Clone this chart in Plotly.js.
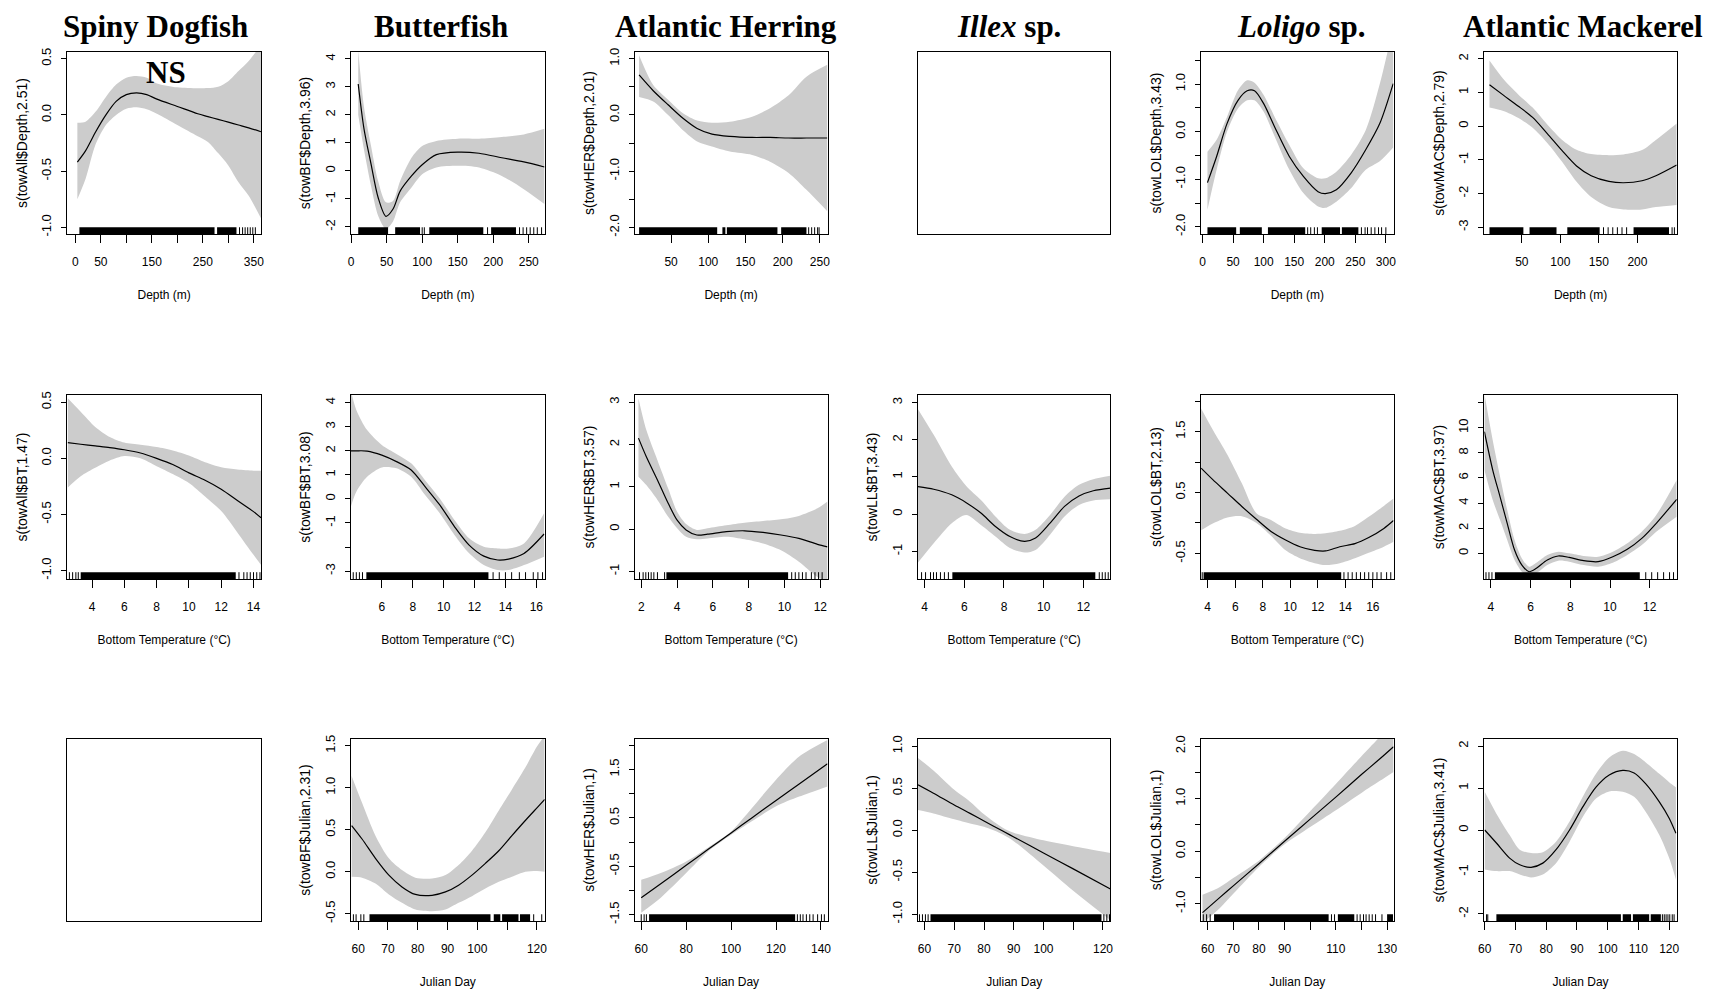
<!DOCTYPE html>
<html><head><meta charset="utf-8">
<script src="https://cdn.plot.ly/plotly-3.0.1.min.js"></script>
<style>html,body{margin:0;padding:0;background:#fff;}#chart{width:1711px;height:993px;}</style>
</head><body><div id="chart"></div>
<script>
// ---------- DATA ----------
const speciesTitles = ['Spiny Dogfish','Butterfish','Atlantic Herring','<i>Illex</i> sp.','<i>Loligo</i> sp.','Atlantic Mackerel'];
const rowXTitles = ['Depth (m)','Bottom Temperature (°C)','Julian Day'];

// Row 1: Depth
const dogDepthX   = [4, 20, 40, 60, 80, 100, 120, 140, 160, 200, 240, 260, 280, 300, 320, 340, 364];
const dogDepthFit = [-0.42, -0.32, -0.15, 0.0, 0.12, 0.18, 0.195, 0.18, 0.14, 0.075, 0.01, -0.015, -0.04, -0.065, -0.09, -0.115, -0.15];
const dogDepthUp  = [-0.07, -0.06, 0.03, 0.16, 0.27, 0.33, 0.345, 0.33, 0.28, 0.245, 0.236, 0.238, 0.25, 0.30, 0.39, 0.48, 0.62];
const dogDepthLo  = [-0.75, -0.57, -0.26, -0.09, 0.0, 0.055, 0.068, 0.05, 0.01, -0.09, -0.19, -0.24, -0.34, -0.45, -0.6, -0.72, -0.92];
const dogDepthRugSeg = [[8,273],[278,316]];
const dogDepthRugTick = [322,328,333,338,343,348,353];

const bfDepthX   = [10, 18, 28, 38, 49, 59, 69, 85, 100, 120, 150, 180, 212, 243, 272];
const bfDepthFit = [3.1, 1.52, 0.25, -0.95, -1.62, -1.36, -0.72, -0.18, 0.22, 0.58, 0.67, 0.63, 0.47, 0.32, 0.14];
const bfDepthUp  = [4.3, 2.3, 0.9, -0.36, -1.12, -1.07, -0.36, 0.47, 0.89, 1.07, 1.15, 1.15, 1.21, 1.30, 1.50];
const bfDepthLo  = [2.0, 0.77, -0.53, -1.6, -2.07, -1.8, -1.12, -0.59, -0.12, 0.12, 0.18, 0.12, -0.18, -0.65, -1.18];
const bfDepthRugSeg = [[10,52],[62,97],[110,186],[197,232]];
const bfDepthRugTick = [100,103,192,237,242,247,252,257,262,268];

const herDepthX   = [7, 26, 46, 66, 85, 105, 129, 159, 183, 208, 232, 260];
const herDepthFit = [0.71, 0.43, 0.18, -0.06, -0.24, -0.34, -0.38, -0.40, -0.40, -0.41, -0.41, -0.41];
const herDepthUp  = [1.06, 0.53, 0.27, 0.03, -0.10, -0.14, -0.12, -0.03, 0.12, 0.35, 0.68, 0.89];
const herDepthLo  = [0.32, 0.24, 0.0, -0.27, -0.47, -0.56, -0.65, -0.71, -0.83, -1.03, -1.33, -1.71];
const herDepthRugSeg = [[7,112],[119,123],[125,193],[198,232]];
const herDepthRugTick = [235,239,243,247,249];

const lolDepthX   = [8, 23, 40, 58, 73, 85, 100, 118, 142, 165, 189, 201, 219, 243, 267, 290, 312];
const lolDepthFit = [-1.07, -0.52, 0.17, 0.66, 0.86, 0.86, 0.59, 0.10, -0.52, -0.94, -1.26, -1.30, -1.22, -0.87, -0.38, 0.17, 1.01];
const lolDepthUp  = [-0.42, -0.17, 0.31, 0.87, 1.08, 1.03, 0.77, 0.31, -0.28, -0.77, -0.98, -0.98, -0.84, -0.49, 0.03, 1.0, 2.2];
const lolDepthLo  = [-1.64, -0.80, 0.0, 0.49, 0.66, 0.66, 0.42, -0.10, -0.80, -1.29, -1.57, -1.6, -1.47, -1.19, -0.80, -0.62, -0.33];
const lolDepthRugSeg = [[8,55],[61,97],[107,168],[195,225],[228,255]];
const lolDepthRugTick = [172,177,183,188,260,266,270,276,282,288,293,300];

const macDepthX   = [8, 26, 45, 64, 83, 102, 121, 140, 163, 182, 206, 224, 251];
const macDepthFit = [1.23, 0.92, 0.60, 0.26, -0.22, -0.72, -1.18, -1.47, -1.64, -1.68, -1.62, -1.47, -1.15];
const macDepthUp  = [1.95, 1.40, 0.95, 0.55, 0.05, -0.40, -0.70, -0.83, -0.86, -0.84, -0.71, -0.41, 0.08];
const macDepthLo  = [0.55, 0.45, 0.25, -0.05, -0.50, -1.05, -1.65, -2.10, -2.40, -2.47, -2.47, -2.40, -2.34];
const macDepthRugSeg = [[8,52],[60,95],[109,151],[195,241]];
const macDepthRugTick = [156,162,168,174,180,186,245,248];

// Row 2: Bottom temperature
const dogBTX   = [2.5, 3.3, 4.2, 5.1, 6.0, 7.0, 8.0, 9.0, 10.0, 11.0, 12.0, 13.0, 14.0, 14.47];
const dogBTFit = [0.14, 0.125, 0.11, 0.095, 0.076, 0.047, 0.0, -0.055, -0.13, -0.195, -0.275, -0.375, -0.475, -0.53];
const dogBTUp  = [0.535, 0.415, 0.28, 0.19, 0.14, 0.12, 0.10, 0.07, 0.025, -0.035, -0.08, -0.10, -0.11, -0.11];
const dogBTLo  = [-0.26, -0.16, -0.085, -0.02, 0.02, 0.0, -0.07, -0.14, -0.22, -0.34, -0.47, -0.66, -0.86, -0.95];
const dogBTRugSeg = [[3.3,12.9]];
const dogBTRugTick = [2.6,2.8,3.0,3.15,13.1,13.4,13.6,13.8,14.0,14.2,14.4];

const bfBTX   = [4.0, 4.35, 5.05, 6.0, 6.95, 7.9, 8.8, 9.75, 10.7, 11.65, 12.6, 13.5, 14.2, 15.2, 16.5];
const bfBTFit = [2.0, 2.0, 1.99, 1.82, 1.55, 1.2, 0.51, -0.25, -1.15, -1.92, -2.38, -2.54, -2.5, -2.27, -1.46];
const bfBTUp  = [4.5, 3.7, 2.86, 2.24, 1.87, 1.48, 0.78, 0.02, -0.88, -1.64, -1.99, -2.06, -2.06, -1.85, -0.6];
const bfBTLo  = [-0.32, 0.3, 0.92, 1.31, 1.27, 0.92, 0.16, -0.6, -1.5, -2.26, -2.75, -2.96, -2.96, -2.75, -2.4];
const bfBTRugSeg = [[5.0,12.9]];
const bfBTRugTick = [4.15,4.35,4.55,4.75,13.2,13.6,14.0,14.4,14.9,15.3,15.8,16.1,16.4];

const herBTX   = [1.84, 2.28, 2.9, 3.5, 4.0, 4.5, 5.1, 5.7, 6.75, 7.77, 8.8, 9.8, 10.8, 11.84, 12.4];
const herBTFit = [2.15, 1.71, 1.16, 0.61, 0.21, -0.02, -0.14, -0.12, -0.06, -0.04, -0.08, -0.14, -0.22, -0.36, -0.42];
const herBTUp  = [3.09, 2.34, 1.63, 0.96, 0.41, 0.12, -0.02, 0.02, 0.09, 0.15, 0.19, 0.23, 0.31, 0.49, 0.65];
const herBTLo  = [1.24, 1.04, 0.69, 0.29, 0.02, -0.18, -0.24, -0.22, -0.18, -0.24, -0.34, -0.5, -0.77, -1.13, -1.25];
const herBTRugSeg = [[3.4,10.2]];
const herBTRugTick = [1.9,2.1,2.25,2.4,2.55,2.7,2.9,3.3,10.4,10.6,10.8,11.0,11.2,11.5,11.7,11.9,12.1];

const illBTX   = [3.67, 4.46, 5.37, 6.1, 6.84, 7.57, 8.3, 9.04, 9.59, 10.32, 11.05, 11.78, 12.5, 13.36];
const illBTFit = [0.74, 0.67, 0.52, 0.31, 0.03, -0.33, -0.6, -0.73, -0.64, -0.24, 0.21, 0.49, 0.63, 0.70];
const illBTUp  = [2.82, 2.13, 1.28, 0.76, 0.38, -0.06, -0.42, -0.53, -0.42, -0.02, 0.47, 0.79, 0.94, 1.03];
const illBTLo  = [-1.30, -0.78, -0.24, -0.02, -0.29, -0.6, -0.91, -1.03, -0.96, -0.55, -0.06, 0.25, 0.37, 0.40];
const illBTRugSeg = [[5.4,12.6]];
const illBTRugTick = [3.85,4.05,4.3,4.45,4.6,4.8,5.0,5.2,12.8,12.95,13.1,13.25];

const lolBTX   = [3.52, 4.37, 5.43, 6.48, 7.54, 8.6, 9.66, 10.7, 11.77, 12.56, 13.6, 14.7, 15.7, 16.8, 17.5];
const lolBTFit = [0.90, 0.71, 0.49, 0.27, 0.06, -0.14, -0.28, -0.39, -0.45, -0.46, -0.39, -0.34, -0.24, -0.09, 0.04];
const lolBTUp  = [1.88, 1.53, 1.12, 0.65, 0.16, 0.05, -0.09, -0.16, -0.18, -0.17, -0.13, -0.05, 0.10, 0.28, 0.40];
const lolBTLo  = [-0.12, -0.01, 0.09, 0.11, 0.0, -0.21, -0.45, -0.58, -0.66, -0.69, -0.66, -0.58, -0.49, -0.39, -0.31];
const lolBTRugSeg = [[3.7,13.7]];
const lolBTRugTick = [3.6,13.9,14.2,14.5,14.8,15.1,15.4,15.7,16.0,16.3,16.6,17.0,17.3];

const macBTX   = [3.67, 4.09, 4.46, 4.82, 5.19, 5.56, 5.92, 6.29, 6.84, 7.39, 7.94, 8.67, 9.4, 10.14, 10.87, 11.6, 12.33, 13.36];
const macBTFit = [9.68, 6.63, 4.5, 2.39, 0.27, -0.93, -1.46, -1.19, -0.53, -0.21, -0.32, -0.58, -0.66, -0.27, 0.32, 1.19, 2.39, 4.3];
const macBTUp  = [12.7, 9.0, 6.1, 3.45, 1.06, -0.4, -1.06, -0.74, -0.13, 0.13, 0.0, -0.21, -0.27, 0.13, 0.8, 1.72, 3.05, 5.84];
const macBTLo  = [6.63, 4.24, 2.65, 1.06, -0.53, -1.46, -1.86, -1.59, -0.93, -0.58, -0.66, -0.93, -1.06, -0.74, -0.13, 0.66, 1.72, 2.92];
const macBTRugSeg = [[4.2,11.5]];
const macBTRugTick = [3.75,3.9,4.05,11.8,12.1,12.4,12.7,13.0,13.2];

// Row 3: Julian day
const bfJulX   = [57.8, 61.3, 65.8, 70.3, 74.7, 79.2, 84.8, 89.3, 93.7, 98.2, 102.7, 107.2, 111.6, 116.1, 120, 122.6];
const bfJulFit = [0.55, 0.39, 0.16, -0.04, -0.18, -0.27, -0.28, -0.24, -0.16, -0.04, 0.10, 0.25, 0.43, 0.61, 0.76, 0.86];
const bfJulUp  = [1.14, 0.82, 0.43, 0.16, 0.02, -0.07, -0.08, -0.04, 0.08, 0.25, 0.47, 0.73, 0.98, 1.24, 1.49, 1.62];
const bfJulLo  = [-0.06, -0.07, -0.14, -0.27, -0.37, -0.45, -0.47, -0.45, -0.37, -0.29, -0.20, -0.12, -0.06, 0.0, 0.01, 0.0];
const bfJulRugSeg = [[63.8,104.4],[105.5,107.7],[108.3,113.8],[114.3,117.7]];
const bfJulRugTick = [58.4,59.3,60.9,61.9,118.9,121.6];

const herJulX   = [60, 68.7, 80, 89.8, 100, 109.2, 120, 130.3, 142.9];
const herJulFit = [-1.15, -0.86, -0.48, -0.15, 0.19, 0.50, 0.86, 1.20, 1.62];
const herJulUp  = [-0.78, -0.64, -0.40, -0.11, 0.22, 0.70, 1.29, 1.77, 2.11];
const herJulLo  = [-1.46, -1.15, -0.64, -0.19, 0.15, 0.43, 0.74, 0.94, 1.15];
const herJulRugSeg = [[63.5,128.5]];
const herJulRugTick = [60,61.3,62.3,129.5,130.8,132,133.5,135,136.5,138.5,140.2,141.5];

const illJulX   = [57.8, 63, 70, 75.3, 80, 86.3, 90, 100, 110, 122.5];
const illJulFit = [0.54, 0.44, 0.30, 0.20, 0.11, -0.01, -0.08, -0.27, -0.46, -0.70];
const illJulUp  = [0.86, 0.71, 0.48, 0.34, 0.19, 0.03, -0.03, -0.12, -0.19, -0.27];
const illJulLo  = [0.24, 0.20, 0.13, 0.08, 0.04, -0.05, -0.13, -0.42, -0.72, -1.07];
const illJulRugSeg = [[62,119.5]];
const illJulRugTick = [58.3,59.3,60.3,61.2,120.3,121.3,122.2];

const lolJulX   = [58, 64.8, 70, 80, 90, 100, 110, 120, 127.2, 132.5];
const lolJulFit = [-1.17, -0.88, -0.66, -0.24, 0.19, 0.61, 1.03, 1.46, 1.76, 1.99];
const lolJulUp  = [-0.83, -0.68, -0.51, -0.18, 0.25, 0.76, 1.28, 1.81, 2.18, 2.47];
const lolJulLo  = [-1.37, -1.08, -0.81, -0.30, 0.13, 0.46, 0.78, 1.11, 1.34, 1.51];
const lolJulRugSeg = [[62.5,107.2],[110.8,117.2],[130,132.3]];
const lolJulRugTick = [58.3,59.6,61.0,108.3,109.5,118.3,119.5,120.8,121.8,123,124.2,125.5,128];

const macJulX   = [60, 63.8, 68.1, 71.4, 75.1, 78.9, 83.2, 87.6, 91.9, 96.2, 100.5, 104.9, 108.6, 112.4, 116.8, 120, 122.2];
const macJulFit = [0.0, -0.31, -0.67, -0.83, -0.89, -0.79, -0.47, 0.0, 0.55, 1.02, 1.31, 1.42, 1.36, 1.10, 0.67, 0.28, -0.08];
const macJulUp  = [0.91, 0.39, -0.12, -0.47, -0.55, -0.53, -0.28, 0.20, 0.79, 1.34, 1.73, 1.89, 1.81, 1.61, 1.34, 1.14, 1.02];
const macJulLo  = [-0.94, -0.98, -0.98, -1.06, -1.13, -1.06, -0.79, -0.28, 0.31, 0.75, 0.92, 0.91, 0.79, 0.43, -0.12, -0.67, -1.18];
const macJulRugSeg = [[63.8,104.3],[104.9,107.6],[108.2,113.5],[114,117.3]];
const macJulRugTick = [60.6,61.0,117.8,118.4,119.0,119.6,120.2,121.0,121.6];

// Tick values / labels
const tkDogDepthX = [0,50,100,150,200,250,300,350], lbDogDepthX = ['0','50','','150','','250','','350'];
const tkDogDepthY = [-1,-0.5,0,0.5], lbDogDepthY = ['-1.0','-0.5','0.0','0.5'];
const tkBfDepthX = [0,50,100,150,200,250], lbBfDepthX = ['0','50','100','150','200','250'];
const tkBfDepthY = [-2,-1,0,1,2,3,4], lbBfDepthY = ['-2','-1','0','1','2','3','4'];
const tkHerDepthX = [50,100,150,200,250], lbHerDepthX = ['50','100','150','200','250'];
const tkHerDepthY = [-2,-1.5,-1,-0.5,0,0.5,1], lbHerDepthY = ['-2.0','','-1.0','','0.0','','1.0'];
const tkLolDepthX = [0,50,100,150,200,250,300], lbLolDepthX = ['0','50','100','150','200','250','300'];
const tkLolDepthY = [-2,-1.5,-1,-0.5,0,0.5,1,1.5], lbLolDepthY = ['-2.0','','-1.0','','0.0','','1.0',''];
const tkMacDepthX = [50,100,150,200], lbMacDepthX = ['50','100','150','200'];
const tkMacDepthY = [-3,-2,-1,0,1,2], lbMacDepthY = ['-3','-2','-1','0','1','2'];

const tkDogBTX = [4,6,8,10,12,14], lbDogBTX = ['4','6','8','10','12','14'];
const tkDogBTY = [-1,-0.5,0,0.5], lbDogBTY = ['-1.0','-0.5','0.0','0.5'];
const tkBfBTX = [6,8,10,12,14,16], lbBfBTX = ['6','8','10','12','14','16'];
const tkBfBTY = [-3,-2,-1,0,1,2,3,4], lbBfBTY = ['-3','','-1','0','1','2','3','4'];
const tkHerBTX = [2,4,6,8,10,12], lbHerBTX = ['2','4','6','8','10','12'];
const tkHerBTY = [-1,0,1,2,3], lbHerBTY = ['-1','0','1','2','3'];
const tkIllBTX = [4,6,8,10,12], lbIllBTX = ['4','6','8','10','12'];
const tkIllBTY = [-1,0,1,2,3], lbIllBTY = ['-1','0','1','2','3'];
const tkLolBTX = [4,6,8,10,12,14,16], lbLolBTX = ['4','6','8','10','12','14','16'];
const tkLolBTY = [-0.5,0,0.5,1,1.5,2], lbLolBTY = ['-0.5','','0.5','','1.5',''];
const tkMacBTX = [4,6,8,10,12], lbMacBTX = ['4','6','8','10','12'];
const tkMacBTY = [0,2,4,6,8,10,12], lbMacBTY = ['0','2','4','6','8','10',''];

const tkBfJulX = [60,70,80,90,100,110,120], lbBfJulX = ['60','70','80','90','100','','120'];
const tkBfJulY = [-0.5,0,0.5,1,1.5], lbBfJulY = ['-0.5','0.0','0.5','1.0','1.5'];
const tkHerJulX = [60,80,100,120,140], lbHerJulX = ['60','80','100','120','140'];
const tkHerJulY = [-1.5,-1,-0.5,0,0.5,1,1.5,2], lbHerJulY = ['-1.5','','-0.5','','0.5','','1.5',''];
const tkIllJulX = [60,70,80,90,100,110,120], lbIllJulX = ['60','70','80','90','100','','120'];
const tkIllJulY = [-1,-0.5,0,0.5,1], lbIllJulY = ['-1.0','-0.5','0.0','0.5','1.0'];
const tkLolJulX = [60,70,80,90,100,110,120,130], lbLolJulX = ['60','70','80','90','','110','','130'];
const tkLolJulY = [-1,-0.5,0,0.5,1,1.5,2], lbLolJulY = ['-1.0','','0.0','','1.0','','2.0'];
const tkMacJulX = [60,70,80,90,100,110,120], lbMacJulX = ['60','70','80','90','100','110','120'];
const tkMacJulY = [-2,-1,0,1,2], lbMacJulY = ['-2','-1','0','1','2'];

// ---------- LAYOUT / BUILD ----------
const W = 1711, H = 993;
const colL = [67.3, 350.9, 634.7, 918, 1201.1, 1484.4], colR = [261.1, 544.7, 827.5, 1110.4, 1393.5, 1676.7];
const rowT = [52,395,739], rowB = [234,579,921];
const titleCx = [155.5, 440.9, 726.4, 1009.1, 1301.3, 1583.3];

const panels = [
 {r:0,c:0,x:dogDepthX,fit:dogDepthFit,up:dogDepthUp,lo:dogDepthLo,seg:dogDepthRugSeg,tk:dogDepthRugTick,xr:[-15.7,364.3],yr:[-1.059,0.559],xt:tkDogDepthX,xl:lbDogDepthX,yt:tkDogDepthY,yl:lbDogDepthY,yt_:'s(towAll$Depth,2.51)'},
 {r:0,c:1,x:bfDepthX,fit:bfDepthFit,up:bfDepthUp,lo:bfDepthLo,seg:bfDepthRugSeg,tk:bfDepthRugTick,xr:[-0.3,272.4],yr:[-2.25,4.24],xt:tkBfDepthX,xl:lbBfDepthX,yt:tkBfDepthY,yl:lbBfDepthY,yt_:'s(towBF$Depth,3.96)'},
 {r:0,c:2,x:herDepthX,fit:herDepthFit,up:herDepthUp,lo:herDepthLo,seg:herDepthRugSeg,tk:herDepthRugTick,xr:[1.1,260.3],yr:[-2.115,1.118],xt:tkHerDepthX,xl:lbHerDepthX,yt:tkHerDepthY,yl:lbHerDepthY,yt_:'s(towHER$Depth,2.01)'},
 {r:0,c:3,empty:true},
 {r:0,c:4,x:lolDepthX,fit:lolDepthFit,up:lolDepthUp,lo:lolDepthLo,seg:lolDepthRugSeg,tk:lolDepthRugTick,xr:[-2.4,312.5],yr:[-2.15,1.675],xt:tkLolDepthX,xl:lbLolDepthX,yt:tkLolDepthY,yl:lbLolDepthY,yt_:'s(towLOL$Depth,3.43)'},
 {r:0,c:5,x:macDepthX,fit:macDepthFit,up:macDepthUp,lo:macDepthLo,seg:macDepthRugSeg,tk:macDepthRugTick,xr:[1.4,251],yr:[-3.2,2.2],xt:tkMacDepthX,xl:lbMacDepthX,yt:tkMacDepthY,yl:lbMacDepthY,yt_:'s(towMAC$Depth,2.79)'},
 {r:1,c:0,x:dogBTX,fit:dogBTFit,up:dogBTUp,lo:dogBTLo,seg:dogBTRugSeg,tk:dogBTRugTick,xr:[2.47,14.47],yr:[-1.075,0.564],xt:tkDogBTX,xl:lbDogBTX,yt:tkDogBTY,yl:lbDogBTY,yt_:'s(towAll$BT,1.47)'},
 {r:1,c:1,x:bfBTX,fit:bfBTFit,up:bfBTUp,lo:bfBTLo,seg:bfBTRugSeg,tk:bfBTRugTick,xr:[4.0,16.54],yr:[-3.33,4.32],xt:tkBfBTX,xl:lbBfBTX,yt:tkBfBTY,yl:lbBfBTY,yt_:'s(towBF$BT,3.08)'},
 {r:1,c:2,x:herBTX,fit:herBTFit,up:herBTUp,lo:herBTLo,seg:herBTRugSeg,tk:herBTRugTick,xr:[1.63,12.4],yr:[-1.18,3.17],xt:tkHerBTX,xl:lbHerBTX,yt:tkHerBTY,yl:lbHerBTY,yt_:'s(towHER$BT,3.57)'},
 {r:1,c:3,x:illBTX,fit:illBTFit,up:illBTUp,lo:illBTLo,seg:illBTRugSeg,tk:illBTRugTick,xr:[3.67,13.36],yr:[-1.74,3.2],xt:tkIllBTX,xl:lbIllBTX,yt:tkIllBTY,yl:lbIllBTY,yt_:'s(towLL$BT,3.43)'},
 {r:1,c:4,x:lolBTX,fit:lolBTFit,up:lolBTUp,lo:lolBTLo,seg:lolBTRugSeg,tk:lolBTRugTick,xr:[3.52,17.5],yr:[-0.92,2.10],xt:tkLolBTX,xl:lbLolBTX,yt:tkLolBTY,yl:lbLolBTY,yt_:'s(towLOL$BT,2.13)'},
 {r:1,c:5,x:macBTX,fit:macBTFit,up:macBTUp,lo:macBTLo,seg:macBTRugSeg,tk:macBTRugTick,xr:[3.67,13.36],yr:[-2.04,12.6],xt:tkMacBTX,xl:lbMacBTX,yt:tkMacBTY,yl:lbMacBTY,yt_:'s(towMAC$BT,3.97)'},
 {r:2,c:0,empty:true},
 {r:2,c:1,x:bfJulX,fit:bfJulFit,up:bfJulUp,lo:bfJulLo,seg:bfJulRugSeg,tk:bfJulRugTick,xr:[57.56,122.6],yr:[-0.586,1.58],xt:tkBfJulX,xl:lbBfJulX,yt:tkBfJulY,yl:lbBfJulY,yt_:'s(towBF$Julian,2.31)'},
 {r:2,c:2,x:herJulX,fit:herJulFit,up:herJulUp,lo:herJulLo,seg:herJulRugSeg,tk:herJulRugTick,xr:[57.1,142.9],yr:[-1.63,2.13],xt:tkHerJulX,xl:lbHerJulX,yt:tkHerJulY,yl:lbHerJulY,yt_:'s(towHER$Julian,1)'},
 {r:2,c:3,x:illJulX,fit:illJulFit,up:illJulUp,lo:illJulLo,seg:illJulRugSeg,tk:illJulRugTick,xr:[57.8,122.5],yr:[-1.08,1.085],xt:tkIllJulX,xl:lbIllJulX,yt:tkIllJulY,yl:lbIllJulY,yt_:'s(towLL$Julian,1)'},
 {r:2,c:4,x:lolJulX,fit:lolJulFit,up:lolJulUp,lo:lolJulLo,seg:lolJulRugSeg,tk:lolJulRugTick,xr:[57.45,132.5],yr:[-1.33,2.137],xt:tkLolJulX,xl:lbLolJulX,yt:tkLolJulY,yl:lbLolJulY,yt_:'s(towLOL$Julian,1)'},
 {r:2,c:5,x:macJulX,fit:macJulFit,up:macJulUp,lo:macJulLo,seg:macJulRugSeg,tk:macJulRugTick,xr:[59.9,122.45],yr:[-2.17,2.17],xt:tkMacJulX,xl:lbMacJulX,yt:tkMacJulY,yl:lbMacJulY,yt_:'s(towMAC$Julian,3.41)'}
];

const SANS = '"Liberation Sans", Arial, sans-serif';
const SERIF = '"Liberation Serif", "Times New Roman", serif';
const RUGH = 0.037;

const traces = [], shapes = [], annotations = [];
const layout = {
  width: W, height: H, margin: {l:0,r:0,t:0,b:0},
  paper_bgcolor:'#fff', plot_bgcolor:'#fff', showlegend:false,
  font:{family:SANS, color:'#000'}
};

panels.forEach((p, i) => {
  const n = i + 1;
  const xa = n === 1 ? 'x' : 'x' + n, ya = n === 1 ? 'y' : 'y' + n;
  const xk = n === 1 ? 'xaxis' : 'xaxis' + n, yk = n === 1 ? 'yaxis' : 'yaxis' + n;
  const xd = [colL[p.c] / W, colR[p.c] / W];
  const yd = [1 - rowB[p.r] / H, 1 - rowT[p.r] / H];
  const common = {showline:true, mirror:true, linecolor:'#000', linewidth:1, showgrid:false, zeroline:false, fixedrange:true};
  if (p.empty) {
    traces.push({x:[], y:[], xaxis:xa, yaxis:ya, type:'scatter', mode:'lines', hoverinfo:'skip'});
    layout[xk] = Object.assign({domain:xd, anchor:ya, range:[0,1], ticks:'', showticklabels:false}, common);
    layout[yk] = Object.assign({domain:yd, anchor:xa, range:[0,1], ticks:'', showticklabels:false}, common);
    return;
  }
  traces.push({x:p.x, y:p.up, xaxis:xa, yaxis:ya, type:'scatter', mode:'lines',
    line:{width:0, shape:'spline', smoothing:0.8}, hoverinfo:'skip'});
  traces.push({x:p.x, y:p.lo, xaxis:xa, yaxis:ya, type:'scatter', mode:'lines', fill:'tonexty',
    fillcolor:'#cccccc', line:{width:0, shape:'spline', smoothing:0.8}, hoverinfo:'skip'});
  traces.push({x:p.x, y:p.fit, xaxis:xa, yaxis:ya, type:'scatter', mode:'lines',
    line:{color:'#000', width:1.2, shape:'spline', smoothing:0.8}});
  layout[xk] = Object.assign({domain:xd, anchor:ya, range:p.xr, tickmode:'array', tickvals:p.xt, ticktext:p.xl,
    ticks:'outside', ticklen:8, tickwidth:1, tickcolor:'#000', ticklabelstandoff:9,
    tickfont:{family:SANS, size:12, color:'#000'},
    title:{text:rowXTitles[p.r], font:{family:SANS, size:12, color:'#000'}, standoff:22}}, common);
  layout[yk] = Object.assign({domain:yd, anchor:xa, range:p.yr, tickmode:'array', tickvals:p.yt, ticktext:p.yl,
    ticks:'outside', ticklen:5, tickwidth:1, tickcolor:'#000', tickangle:-90, ticklabelstandoff:5,
    tickfont:{family:SANS, size:13, color:'#000'},
    title:{text:p.yt_, font:{family:SANS, size:14, color:'#000'}, standoff:8}}, common);
  p.seg.forEach(s => shapes.push({type:'rect', xref:xa, yref:ya + ' domain', x0:s[0], x1:s[1], y0:0, y1:RUGH,
    fillcolor:'#000', line:{width:0}, layer:'above'}));
  p.tk.forEach(t => shapes.push({type:'line', xref:xa, yref:ya + ' domain', x0:t, x1:t, y0:0, y1:RUGH,
    line:{color:'#000', width:1}, layer:'above'}));
});

speciesTitles.forEach((t, c) => annotations.push({text:'<b>' + t + '</b>', xref:'paper', yref:'paper',
  x:titleCx[c] / W, y:1 - 27 / H, xanchor:'center', yanchor:'middle', showarrow:false,
  font:{family:SERIF, size:31, color:'#000'}}));
annotations.push({text:'<b>NS</b>', xref:'paper', yref:'paper', x:166 / W, y:1 - 73 / H,
  xanchor:'center', yanchor:'middle', showarrow:false, font:{family:SERIF, size:31, color:'#000'}});

layout.shapes = shapes;
layout.annotations = annotations;
Plotly.newPlot('chart', traces, layout, {staticPlot:true, displayModeBar:false});
</script>
</body></html>
